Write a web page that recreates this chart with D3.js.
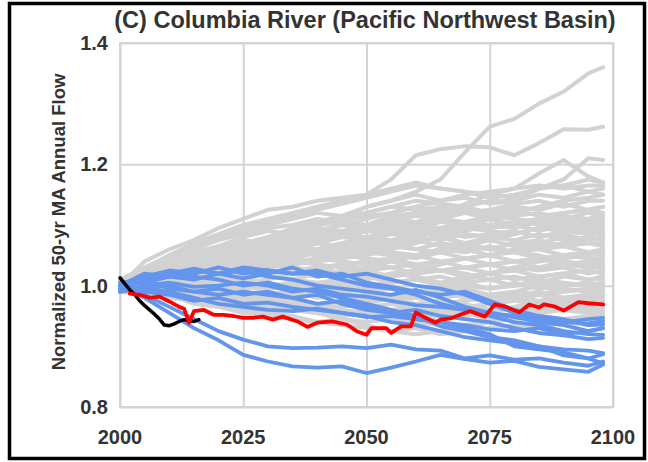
<!DOCTYPE html>
<html><head><meta charset="utf-8">
<script src="https://cdn.jsdelivr.net/npm/d3@7"></script>
<style>body{margin:0;background:#fff}svg{display:block}text{font-family:"Liberation Sans",Arial,sans-serif;font-weight:bold;fill:#333}</style>
</head><body><svg id="c" width="648" height="462"></svg>
<script>
const title = "(C) Columbia River (Pacific Northwest Basin)";
const yLabel = "Normalized 50-yr MA Annual Flow";
const xTicks = [2000, 2025, 2050, 2075, 2100];
const yTicks = [0.8, 1.0, 1.2, 1.4];
const years = [2000,2005,2010,2015,2020,2025,2030,2035,2040,2045,2050,2055,2060,2065,2070,2075,2080,2085,2090,2095,2098];

// Grey ensemble members
const g1 =[1.00,0.99,0.985,0.97,0.965,0.955,0.95,0.945,0.94,0.935,0.93,0.925,0.93,0.92,0.925,0.93,0.935,0.93,0.94,0.935,0.94];
const g2 =[0.995,0.99,0.98,0.975,0.97,0.96,0.955,0.95,0.94,0.945,0.935,0.925,0.92,0.925,0.935,0.94,0.945,0.95,0.945,0.95,0.95];
const g3 =[1.0,1.0,0.99,0.985,0.98,0.975,0.965,0.96,0.955,0.945,0.94,0.945,0.94,0.935,0.93,0.94,0.95,0.955,0.96,0.955,0.955];
const g4 =[1.005,0.995,1.0,0.99,0.985,0.98,0.97,0.975,0.965,0.96,0.955,0.95,0.945,0.95,0.955,0.945,0.95,0.96,0.965,0.96,0.96];
const g5 =[1.0,1.005,0.995,0.99,0.995,0.985,0.98,0.975,0.97,0.965,0.97,0.96,0.955,0.96,0.95,0.955,0.965,0.96,0.97,0.965,0.965];
const g6 =[0.99,0.995,0.99,1.0,0.99,0.98,0.985,0.98,0.97,0.975,0.965,0.97,0.96,0.965,0.97,0.96,0.965,0.975,0.97,0.975,0.97];
const g7 =[1.01,1.0,1.005,0.995,1.0,0.99,0.985,0.99,0.98,0.985,0.975,0.98,0.97,0.975,0.965,0.97,0.98,0.975,0.98,0.975,0.975];
const g8 =[1.0,1.01,1.005,1.0,0.995,1.0,0.99,0.985,0.99,0.98,0.985,0.975,0.98,0.97,0.975,0.985,0.98,0.985,0.975,0.98,0.98];
const g9 =[0.995,1.005,1.01,1.005,1.0,0.995,1.0,0.995,0.985,0.99,0.98,0.985,0.99,0.98,0.985,0.975,0.985,0.99,0.98,0.985,0.985];
const g10=[1.0,0.995,1.0,1.01,1.005,1.0,0.995,1.0,0.99,0.995,0.99,0.98,0.985,0.99,0.98,0.985,0.99,0.985,0.995,0.99,0.99];
const g11=[1.005,1.01,1.0,1.005,1.01,1.005,1.0,1.005,0.995,1.0,0.99,0.995,0.985,0.99,0.995,0.985,0.99,1.0,0.99,0.995,0.995];
const g12=[1.0,1.005,1.015,1.01,1.005,1.01,1.005,0.995,1.0,1.005,0.995,1.0,0.99,0.995,1.0,0.995,1.005,0.995,1.0,1.005,1.0];
const g13=[0.995,1.0,1.01,1.005,1.015,1.01,1.02,1.01,1.005,1.01,1.0,1.005,1.01,1.0,1.005,0.995,1.0,1.01,1.005,1.0,1.005];
const g14=[1.01,1.005,1.0,1.01,1.015,1.02,1.015,1.01,1.02,1.01,1.015,1.005,1.01,1.015,1.005,1.01,1.0,1.005,1.015,1.01,1.01];
const g15=[1.0,1.01,1.015,1.02,1.01,1.015,1.025,1.02,1.015,1.02,1.01,1.02,1.015,1.005,1.015,1.02,1.01,1.015,1.02,1.01,1.015];
const g16=[1.005,1.015,1.01,1.02,1.025,1.02,1.015,1.025,1.03,1.02,1.025,1.015,1.02,1.025,1.015,1.02,1.025,1.015,1.02,1.025,1.02];
const g17=[1.0,1.01,1.02,1.015,1.025,1.03,1.025,1.02,1.03,1.035,1.025,1.03,1.02,1.025,1.03,1.02,1.03,1.025,1.03,1.02,1.025];
const g18=[1.01,1.015,1.02,1.025,1.02,1.03,1.035,1.03,1.025,1.035,1.04,1.03,1.035,1.025,1.03,1.035,1.025,1.03,1.035,1.03,1.03];
const g19=[1.0,1.005,1.015,1.02,1.03,1.025,1.035,1.04,1.035,1.03,1.04,1.045,1.035,1.04,1.03,1.035,1.04,1.03,1.04,1.035,1.035];
const g20=[1.005,1.015,1.025,1.02,1.03,1.035,1.03,1.04,1.045,1.04,1.035,1.045,1.05,1.04,1.045,1.035,1.04,1.045,1.035,1.04,1.04];
const g21=[1.0,1.01,1.02,1.03,1.025,1.035,1.04,1.035,1.045,1.05,1.045,1.04,1.05,1.055,1.045,1.05,1.04,1.045,1.05,1.045,1.045];
const g22=[1.01,1.02,1.015,1.025,1.035,1.03,1.04,1.045,1.04,1.05,1.055,1.05,1.045,1.055,1.06,1.05,1.055,1.045,1.05,1.055,1.05];
const g23=[1.0,1.015,1.025,1.035,1.03,1.04,1.05,1.045,1.055,1.05,1.06,1.055,1.05,1.06,1.055,1.065,1.055,1.06,1.05,1.055,1.055];
const g24=[1.005,1.01,1.02,1.03,1.04,1.035,1.045,1.055,1.05,1.06,1.055,1.065,1.06,1.055,1.065,1.06,1.07,1.06,1.065,1.055,1.06];
const g25=[1.0,1.02,1.03,1.025,1.035,1.045,1.04,1.05,1.06,1.055,1.065,1.07,1.06,1.07,1.065,1.06,1.07,1.075,1.065,1.07,1.065];
const g26=[1.01,1.015,1.03,1.04,1.035,1.05,1.055,1.045,1.055,1.065,1.06,1.07,1.075,1.065,1.07,1.075,1.065,1.07,1.08,1.07,1.07];
const g27=[1.0,1.01,1.025,1.035,1.045,1.04,1.055,1.06,1.05,1.06,1.07,1.065,1.075,1.08,1.07,1.08,1.075,1.085,1.075,1.08,1.075];
const g28=[1.005,1.02,1.03,1.04,1.05,1.045,1.06,1.065,1.06,1.07,1.075,1.07,1.08,1.075,1.085,1.08,1.09,1.08,1.085,1.075,1.08];
const g29=[1.01,1.02,1.035,1.03,1.045,1.055,1.05,1.065,1.07,1.065,1.075,1.085,1.08,1.09,1.08,1.085,1.09,1.08,1.09,1.085,1.085];
const g30=[1.0,1.015,1.03,1.045,1.04,1.055,1.065,1.06,1.075,1.08,1.075,1.085,1.09,1.085,1.095,1.09,1.085,1.095,1.09,1.095,1.09];
const g31=[1.005,1.02,1.035,1.045,1.055,1.05,1.065,1.075,1.07,1.08,1.09,1.085,1.095,1.09,1.1,1.095,1.1,1.09,1.1,1.095,1.095];
const g32=[1.0,1.015,1.03,1.04,1.05,1.06,1.055,1.07,1.08,1.085,1.08,1.09,1.1,1.095,1.105,1.1,1.095,1.105,1.1,1.105,1.1];
const g33=[1.01,1.025,1.04,1.05,1.045,1.06,1.07,1.075,1.085,1.08,1.09,1.1,1.095,1.105,1.1,1.11,1.1,1.105,1.11,1.1,1.105];
const g34=[1.0,1.02,1.035,1.045,1.06,1.055,1.07,1.08,1.09,1.085,1.095,1.105,1.1,1.11,1.105,1.115,1.11,1.105,1.115,1.11,1.11];
const g35=[1.005,1.02,1.04,1.05,1.06,1.07,1.065,1.08,1.09,1.1,1.095,1.105,1.115,1.11,1.12,1.11,1.115,1.12,1.11,1.12,1.115];
const g36=[1.01,1.025,1.035,1.05,1.065,1.075,1.07,1.085,1.095,1.09,1.1,1.11,1.105,1.115,1.12,1.115,1.125,1.115,1.12,1.125,1.12];
const g37=[1.0,1.02,1.04,1.055,1.065,1.08,1.09,1.085,1.1,1.105,1.1,1.115,1.12,1.115,1.125,1.12,1.13,1.125,1.135,1.125,1.13];
const g38=[1.005,1.025,1.045,1.06,1.075,1.085,1.095,1.1,1.11,1.105,1.12,1.13,1.125,1.13,1.12,1.125,1.135,1.14,1.13,1.14,1.14];
const g39=[1.01,1.03,1.05,1.065,1.08,1.09,1.1,1.11,1.12,1.115,1.13,1.14,1.15,1.14,1.145,1.135,1.14,1.15,1.145,1.155,1.15];
const g40=[1.0,1.03,1.045,1.06,1.08,1.095,1.105,1.115,1.125,1.135,1.145,1.155,1.165,1.16,1.155,1.145,1.15,1.16,1.165,1.155,1.16];
const g41=[1.005,1.025,1.05,1.07,1.085,1.1,1.11,1.12,1.13,1.14,1.15,1.16,1.17,1.16,1.155,1.15,1.145,1.16,1.165,1.175,1.17];
const g42=[1.0,1.015,1.03,1.04,1.05,1.06,1.055,1.065,1.06,1.05,1.045,1.04,1.03,1.025,1.02,1.01,1.015,1.005,1.0,1.005,1.0];
const g43=[0.995,0.99,0.995,0.985,0.99,0.98,0.985,0.99,0.995,1.0,1.01,1.02,1.025,1.035,1.045,1.05,1.06,1.065,1.07,1.075,1.08];
const g44=[1.0,1.01,1.0,1.01,1.02,1.03,1.04,1.05,1.06,1.07,1.08,1.075,1.085,1.09,1.1,1.11,1.12,1.13,1.14,1.145,1.15];
const g45=[1.005,1.0,0.995,1.0,0.99,0.985,0.975,0.97,0.96,0.965,0.97,0.98,0.99,1.0,1.01,1.02,1.03,1.04,1.045,1.05,1.055];
const g46=[1.0,1.01,1.02,1.025,1.035,1.04,1.05,1.06,1.07,1.08,1.09,1.095,1.09,1.08,1.07,1.06,1.055,1.05,1.04,1.035,1.03];
const g47=[1.01,1.02,1.03,1.035,1.04,1.05,1.06,1.07,1.08,1.085,1.1,1.11,1.12,1.125,1.13,1.12,1.11,1.1,1.095,1.09,1.085];
const g48=[0.995,1.0,1.005,0.995,1.0,1.005,1.01,1.02,1.015,1.025,1.03,1.04,1.05,1.06,1.065,1.075,1.085,1.095,1.105,1.11,1.12];
const g49=[1.0,0.995,0.985,0.98,0.975,0.97,0.965,0.96,0.955,0.95,0.955,0.96,0.965,0.97,0.975,0.98,0.975,0.985,0.99,0.995,1.0];
const g50=[1.005,1.015,1.025,1.04,1.055,1.065,1.08,1.09,1.1,1.11,1.115,1.12,1.13,1.14,1.15,1.155,1.16,1.165,1.16,1.165,1.165];
const g51=[1.0,1.005,1.01,1.02,1.015,1.02,1.03,1.035,1.04,1.045,1.05,1.06,1.07,1.08,1.09,1.1,1.105,1.11,1.12,1.125,1.13];
const g52=[0.99,0.985,0.98,0.975,0.97,0.975,0.97,0.965,0.96,0.955,0.95,0.945,0.95,0.955,0.96,0.97,0.975,0.97,0.98,0.985,0.99];
const gC1=[1.0,1.01,1.025,1.04,1.05,1.065,1.075,1.085,1.09,1.1,1.11,1.12,1.13,1.12,1.135,1.15,1.16,1.185,1.207,1.18,1.17];
const gC2=[1.005,1.015,1.03,1.045,1.06,1.07,1.08,1.095,1.105,1.115,1.12,1.13,1.14,1.135,1.13,1.14,1.14,1.16,1.175,1.21,1.207];
const gB =[1.0,1.04,1.06,1.075,1.095,1.11,1.125,1.13,1.14,1.145,1.15,1.175,1.215,1.225,1.23,1.228,1.215,1.235,1.258,1.257,1.262];
const gA =[1.0,1.02,1.03,1.045,1.06,1.07,1.08,1.09,1.1,1.11,1.13,1.14,1.155,1.175,1.22,1.262,1.275,1.3,1.32,1.35,1.36];
const greySeries = [g1,g2,g3,g4,g5,g6,g7,g8,g9,g10,g11,g12,g13,g14,g15,g16,g17,g18,g19,g20,g21,g22,g23,g24,g25,g26,g27,g28,g29,g30,g31,g32,g33,g34,g35,g36,g37,g38,g39,g40,g41,g42,g43,g44,g45,g46,g47,g48,g49,g50,g51,g52,gC1,gC2,gB,gA];

// Blue ensemble members
const b1 =[1.0,0.98,0.955,0.93,0.91,0.886,0.875,0.867,0.865,0.867,0.856,0.865,0.875,0.886,0.879,0.873,0.876,0.866,0.862,0.858,0.87];
const b2 =[1.0,0.985,0.965,0.945,0.925,0.911,0.9,0.897,0.898,0.9,0.897,0.903,0.895,0.893,0.88,0.885,0.878,0.88,0.873,0.868,0.875];
const b3 =[1.0,1.015,1.025,1.02,1.03,1.02,1.025,1.02,1.025,1.015,1.02,1.01,1.0,0.995,0.985,0.97,0.955,0.945,0.94,0.945,0.947];
const b4 =[0.995,1.01,1.02,1.028,1.02,1.012,1.02,1.03,1.015,1.02,1.005,0.998,0.99,0.985,0.99,0.975,0.96,0.95,0.945,0.935,0.936];
const b5 =[1.0,1.005,1.015,1.01,1.02,1.025,1.015,1.01,1.0,0.995,0.99,0.985,0.993,0.98,0.965,0.955,0.948,0.94,0.935,0.925,0.93];
const b6 =[0.99,1.0,1.005,0.998,1.0,1.005,1.0,0.99,0.995,0.985,0.982,0.975,0.968,0.965,0.96,0.95,0.94,0.935,0.925,0.92,0.919];
const b7 =[1.0,1.01,0.995,0.99,0.985,0.99,0.985,0.98,0.97,0.975,0.965,0.955,0.96,0.95,0.945,0.94,0.93,0.922,0.918,0.912,0.914];
const b8 =[0.995,0.99,0.985,0.975,0.98,0.97,0.972,0.965,0.96,0.955,0.948,0.95,0.945,0.94,0.935,0.928,0.925,0.93,0.92,0.925,0.93];
const b9 =[1.0,0.995,0.99,0.98,0.97,0.965,0.96,0.958,0.962,0.955,0.95,0.94,0.935,0.925,0.915,0.91,0.905,0.9,0.895,0.893,0.889];
const b10=[1.005,1.01,1.02,1.015,1.01,1.0,1.005,0.995,0.99,0.98,0.97,0.96,0.95,0.933,0.925,0.915,0.91,0.9,0.885,0.88,0.887];
const b11=[0.99,0.995,1.0,0.99,0.995,0.985,0.99,0.98,0.985,0.97,0.96,0.955,0.945,0.94,0.93,0.92,0.9,0.895,0.89,0.88,0.872];
const b12=[1.0,1.02,1.015,1.025,1.02,1.03,1.025,1.02,1.02,1.01,1.0,0.995,0.985,0.97,0.96,0.955,0.95,0.945,0.94,0.938,0.942];
const blueSeries = [b1,b2,b3,b4,b5,b6,b7,b8,b9,b10,b11,b12];

// Red (ensemble median) line
const redYears  = [2002,2004,2006,2008,2010,2012,2013,2014,2015,2017,2019,2021,2023,2025,2027,2029,2031,2033,2036,2038,2040,2043,2046,2048,2050,2051,2054,2055,2057,2059,2060,2062,2064,2065,2067,2069,2071,2074,2076,2078,2081,2083,2085,2086,2088,2090,2093,2095,2098];
const redValues = [0.987,0.985,0.980,0.982,0.974,0.965,0.962,0.939,0.958,0.960,0.952,0.952,0.950,0.947,0.947,0.949,0.944,0.949,0.941,0.932,0.939,0.941,0.936,0.925,0.919,0.930,0.930,0.922,0.933,0.933,0.956,0.947,0.939,0.944,0.946,0.952,0.958,0.949,0.969,0.966,0.956,0.969,0.964,0.969,0.966,0.959,0.973,0.971,0.969];

// Black (observed) line
const obsYears  = [2000,2001,2002,2003,2004,2005,2006,2007,2008,2009,2010,2011,2012,2013,2014,2015,2016];
const obsValues = [1.013,1.003,0.993,0.985,0.975,0.967,0.960,0.953,0.945,0.935,0.934,0.937,0.941,0.944,0.942,0.941,0.944];

const svg = d3.select("#c");
const M = {l:120, r:613, t:43, b:407};
const x = d3.scaleLinear().domain([2000,2100]).range([M.l, M.r]);
const y = d3.scaleLinear().domain([0.8,1.4]).range([M.b, M.t]);

// outer frame
svg.append("rect").attr("x",9.5).attr("y",3.5).attr("width",635).attr("height",455)
  .attr("fill","none").attr("stroke","#000").attr("stroke-width",3.5);

// grid
const gridC = "#d4d4d4";
svg.append("g").attr("transform",`translate(0,${M.b})`)
  .call(d3.axisBottom(x).tickValues(xTicks).tickSize(-(M.b-M.t)).tickFormat(""))
  .call(g=>{g.select(".domain").remove(); g.selectAll("line").attr("stroke",gridC).attr("stroke-width",2);});
svg.append("g").attr("transform",`translate(${M.l},0)`)
  .call(d3.axisLeft(y).tickValues(yTicks).tickSize(-(M.r-M.l)).tickFormat(""))
  .call(g=>{g.select(".domain").remove(); g.selectAll("line").attr("stroke",gridC).attr("stroke-width",2);});
svg.append("rect").attr("x",M.l).attr("y",M.t).attr("width",M.r-M.l).attr("height",M.b-M.t)
  .attr("fill","none").attr("stroke",gridC).attr("stroke-width",2);

const line = d3.line().x(d=>x(d[0])).y(d=>y(d[1]));
const zipY = arr => years.map((yr,i)=>[yr,arr[i]]);
const lines = svg.append("g").attr("fill","none").attr("stroke-linejoin","round").attr("stroke-linecap","round");
lines.selectAll("path.grey").data(greySeries).join("path").attr("class","grey")
  .attr("d",s=>line(zipY(s))).attr("stroke","#d2d2d2").attr("stroke-width",4);
lines.selectAll("path.blue").data(blueSeries).join("path").attr("class","blue")
  .attr("d",s=>line(zipY(s))).attr("stroke","#6495ED").attr("stroke-width",3.8);
lines.append("path").attr("d",line(obsYears.map((yr,i)=>[yr,obsValues[i]]))).attr("stroke","#000").attr("stroke-width",3.5);
lines.append("path").attr("d",line(redYears.map((yr,i)=>[yr,redValues[i]]))).attr("stroke","#ff0000").attr("stroke-width",3.8);

// tick labels
svg.append("g").selectAll("text").data(xTicks).join("text")
  .attr("x",d=>x(d)).attr("y",444).attr("text-anchor","middle").attr("font-size",20).text(d=>d);
svg.append("g").selectAll("text").data(yTicks).join("text")
  .attr("x",108).attr("y",d=>y(d)+7).attr("text-anchor","end").attr("font-size",20).text(d=>d.toFixed(1));

svg.append("text").attr("x",365).attr("y",28).attr("text-anchor","middle").attr("font-size",23.5).text(title);
svg.append("text").attr("transform","translate(65,222) rotate(-90)").attr("text-anchor","middle").attr("font-size",18.5).text(yLabel);
</script></body></html>
